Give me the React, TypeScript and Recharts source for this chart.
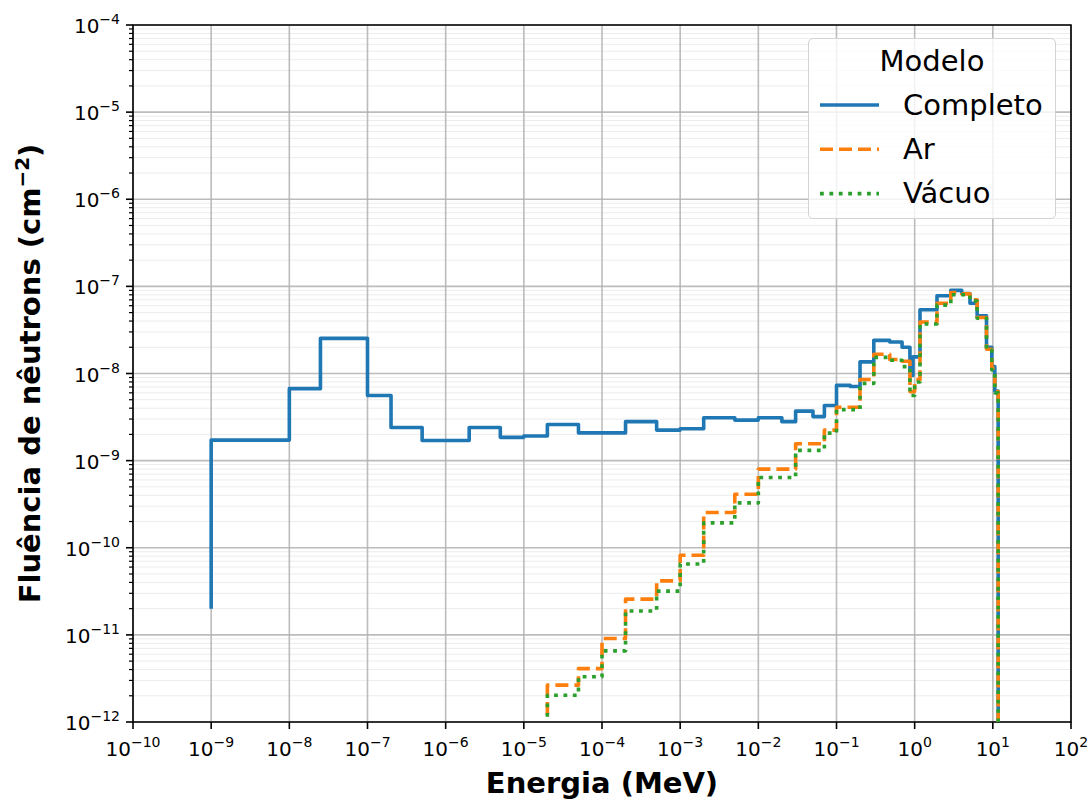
import React from "react";
import {
  LineChart,
  Line,
  XAxis,
  YAxis,
  CartesianGrid,
  ReferenceArea,
  Label,
} from "recharts";

const FONT = "'DejaVu Sans', sans-serif";

// Energia (MeV) e fluência (cm^-2), por modelo
const completoE = [
  1e-9, 1e-9, 1e-8, 2.5e-8, 1e-7, 2e-7, 5e-7, 2e-6, 5e-6, 1e-5,
  2e-5, 5e-5, 2e-4, 5e-4, 1e-3, 2e-3, 5e-3, 1e-2, 2e-2, 3e-2,
  5e-2, 7e-2, 0.1, 0.15, 0.2, 0.3, 0.48, 0.69, 0.87, 0.95,
  1.17, 1.93, 2.9, 4.0, 5.1, 6.3, 8.3, 9.7, 10.6, 11.7,
];
const completoF = [
  2e-11, 1.72e-9, 6.7e-9, 2.53e-8, 5.6e-9, 2.4e-9, 1.7e-9, 2.4e-9, 1.85e-9, 1.92e-9,
  2.6e-9, 2.08e-9, 2.8e-9, 2.24e-9, 2.32e-9, 3.1e-9, 2.92e-9, 3.1e-9, 2.8e-9, 3.7e-9,
  3.2e-9, 4.3e-9, 7.3e-9, 7.1e-9, 1.36e-8, 2.4e-8, 2.3e-8, 2.0e-8, 9.5e-9, 1.55e-8,
  5.4e-8, 7.8e-8, 9.0e-8, 8.3e-8, 6.4e-8, 4.6e-8, 2.0e-8, 1.2e-8, 6.3e-9, 1e-14,
];

const arE = [
  2e-5, 2e-5, 5e-5, 1e-4, 2e-4, 5e-4, 1e-3, 2e-3, 5e-3, 1e-2,
  3e-2, 7e-2, 0.1, 0.2, 0.3, 0.48, 0.69, 0.87, 1.0, 1.17,
  1.93, 2.9, 4.0, 5.1, 6.3, 8.3, 9.7, 10.6, 11.7,
];
const arF = [
  1.2e-12, 2.65e-12, 4.1e-12, 9.1e-12, 2.57e-11, 4.17e-11, 8.2e-11, 2.54e-10, 4.12e-10, 7.98e-10,
  1.56e-9, 2.24e-9, 4.1e-9, 8.55e-9, 1.66e-8, 1.45e-8, 1.38e-8, 6.2e-9, 8.5e-9, 3.9e-8,
  6.4e-8, 8.5e-8, 8.2e-8, 7.0e-8, 4.4e-8, 1.9e-8, 1.15e-8, 6.2e-9, 1e-14,
];

const vacuoE = [
  2e-5, 2e-5, 5e-5, 1e-4, 2e-4, 5e-4, 1e-3, 2e-3, 5e-3, 1e-2,
  3e-2, 7e-2, 0.1, 0.2, 0.3, 0.48, 0.69, 0.87, 1.0, 1.17,
  1.93, 2.9, 4.0, 5.1, 6.3, 8.3, 9.7, 10.6, 11.7,
];
const vacuoF = [
  1.15e-12, 2.03e-12, 3.3e-12, 6.55e-12, 1.88e-11, 3.18e-11, 6.5e-11, 1.93e-10, 3.27e-10, 6.4e-10,
  1.31e-9, 2.07e-9, 3.85e-9, 7.7e-9, 1.53e-8, 1.42e-8, 1.2e-8, 5.6e-9, 8.0e-9, 3.7e-8,
  6.1e-8, 8.0e-8, 8.0e-8, 6.8e-8, 4.3e-8, 1.85e-8, 1.1e-8, 6.0e-9, 1e-14,
];

const xTicks = [1e-10, 1e-9, 1e-8, 1e-7, 1e-6, 1e-5, 1e-4, 1e-3, 1e-2, 1e-1, 1, 10, 100];
const yTicks = [1e-12, 1e-11, 1e-10, 1e-9, 1e-8, 1e-7, 1e-6, 1e-5, 1e-4];
const yMinor = yTicks
  .slice(0, -1)
  .flatMap((d) => [2, 3, 4, 5, 6, 7, 8, 9].map((m) => m * d));

const series = [
  { name: "Completo", color: "#1f77b4", dash: undefined, e: completoE, f: completoF },
  { name: "Ar", color: "#ff7f0e", dash: "13 6", e: arE, f: arF },
  { name: "Vácuo", color: "#2ca02c", dash: "3.8 5.6", e: vacuoE, f: vacuoF },
];

const toRows = (e: number[], f: number[]) => e.map((x, i) => ({ e: x, f: f[i] }));

function expText(v: number) {
  const n = Math.round(Math.log10(v));
  return n < 0 ? "\u2212" + -n : String(n);
}

function XTick(props: any) {
  const { x, y, payload } = props;
  return (
    <text x={x} y={y + 27} textAnchor="middle" fontFamily={FONT} fontSize={20} fill="#000">
      <tspan>10</tspan>
      <tspan dy={-9} fontSize={14}>{expText(payload.value)}</tspan>
    </text>
  );
}

function YTick(props: any) {
  const { x, y, payload } = props;
  const lg = Math.log10(payload.value);
  const major = Math.abs(lg - Math.round(lg)) < 1e-6;
  if (!major) {
    return <line x1={x - 4} x2={x} y1={y} y2={y} stroke="#000" strokeWidth={1.2} />;
  }
  return (
    <g>
      <line x1={x - 7} x2={x} y1={y} y2={y} stroke="#000" strokeWidth={1.6} />
      <text x={x - 13} y={y + 8} textAnchor="end" fontFamily={FONT} fontSize={20} fill="#000">
        <tspan>10</tspan>
        <tspan dy={-9} fontSize={14}>{expText(payload.value)}</tspan>
      </text>
    </g>
  );
}

function XLabel(props: any) {
  const { viewBox } = props;
  return (
    <text
      x={viewBox.x + viewBox.width / 2}
      y={793}
      textAnchor="middle"
      fontFamily={FONT}
      fontWeight="bold"
      fontSize={29}
      fill="#000"
    >
      Energia (MeV)
    </text>
  );
}

function YLabel(props: any) {
  const { viewBox } = props;
  const cy = viewBox.y + viewBox.height / 2;
  return (
    <text
      x={40}
      y={cy}
      transform={`rotate(-90, 40, ${cy})`}
      textAnchor="middle"
      fontFamily={FONT}
      fontWeight="bold"
      fontSize={29}
      fill="#000"
    >
      <tspan>Fluência de nêutrons (cm</tspan>
      <tspan dy={-11} fontSize={20}>{"\u22122"}</tspan>
      <tspan dy={11}>)</tspan>
    </text>
  );
}

function LegendBox() {
  return (
    <div
      style={{
        position: "absolute",
        left: 808,
        top: 38,
        width: 248,
        height: 181,
        background: "rgba(255,255,255,0.8)",
        border: "1px solid #d3d3d3",
        borderRadius: 5,
        boxSizing: "border-box",
      }}
    >
      <svg width={246} height={179} style={{ display: "block" }}>
        <text x={123} y={32} textAnchor="middle" fontFamily={FONT} fontSize={29} fill="#000">
          Modelo
        </text>
        {series.map((s, i) => {
          const ly = 66 + i * 44.3;
          return (
            <g key={s.name}>
              <line
                x1={11}
                x2={70}
                y1={ly}
                y2={ly}
                stroke={s.color}
                strokeWidth={3.6}
                strokeDasharray={s.dash}
              />
              <text x={94} y={ly + 9.5} fontFamily={FONT} fontSize={29} fill="#000">
                {s.name}
              </text>
            </g>
          );
        })}
      </svg>
    </div>
  );
}

export default function App() {
  return (
    <div style={{ position: "absolute", left: 0, top: 0, width: 1089, height: 801, background: "#fff" }}>
      <LineChart width={1089} height={801} margin={{ top: 25, right: 18, bottom: 0, left: 0 }}>
        <CartesianGrid horizontalValues={yMinor} vertical={false} stroke="#ececec" strokeWidth={1} />
        <CartesianGrid
          horizontalValues={yTicks}
          verticalValues={xTicks}
          stroke="#b0b0b0"
          strokeOpacity={0.85}
          strokeWidth={1.6}
        />
        <XAxis
          type="number"
          dataKey="e"
          scale="log"
          domain={[1e-10, 100]}
          allowDataOverflow
          ticks={xTicks}
          interval={0}
          height={79}
          axisLine={false}
          tickSize={7}
          tickMargin={0}
          tickLine={{ stroke: "#000", strokeWidth: 1.6 }}
          tick={<XTick />}
        >
          <Label content={<XLabel />} />
        </XAxis>
        <YAxis
          type="number"
          dataKey="f"
          scale="log"
          domain={[1e-12, 1e-4]}
          allowDataOverflow
          ticks={[...yTicks, ...yMinor].sort((a, b) => a - b)}
          interval={0}
          width={133}
          axisLine={false}
          tickLine={false}
          tickSize={0}
          tickMargin={0}
          tick={<YTick />}
        >
          <Label content={<YLabel />} />
        </YAxis>
        <ReferenceArea
          x1={1e-10}
          x2={100}
          y1={1e-12}
          y2={1e-4}
          fill="none"
          fillOpacity={0}
          stroke="#000"
          strokeWidth={1.6}
        />
        {series.map((s) => (
          <Line
            key={s.name}
            name={s.name}
            data={toRows(s.e, s.f)}
            dataKey="f"
            type="stepAfter"
            stroke={s.color}
            strokeWidth={3.6}
            strokeDasharray={s.dash}
            strokeLinejoin="round"
            dot={false}
            activeDot={false}
            isAnimationActive={false}
          />
        ))}
      </LineChart>
      <LegendBox />
    </div>
  );
}
